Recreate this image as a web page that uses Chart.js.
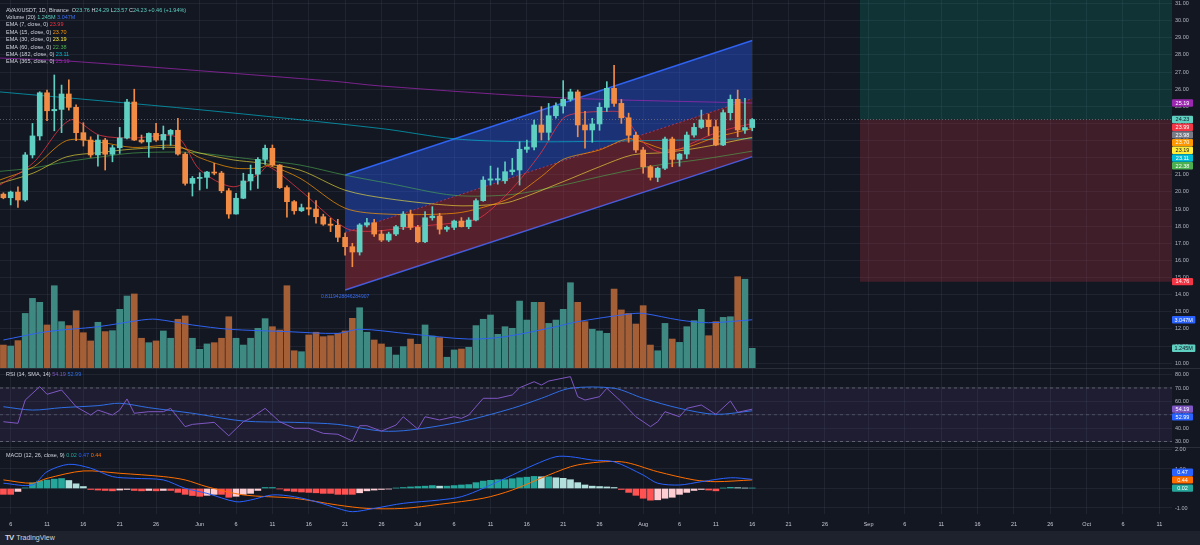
<!DOCTYPE html>
<html><head><meta charset="utf-8">
<script src="https://cdn.jsdelivr.net/npm/chart.js@4.4.1/dist/chart.umd.min.js"></script>
<style>
html,body{margin:0;padding:0;background:#131722;width:1200px;height:545px;overflow:hidden}
canvas{position:absolute;left:0;display:block}
#footer{position:absolute;left:0;top:531px;width:1200px;height:14px;background:#1e222d;color:#d1d4dc;font:7px "Liberation Sans",Arial,sans-serif;line-height:14px}
#footer b{font-size:8px;letter-spacing:-1px;margin-left:5px;margin-right:3px}
</style></head><body>
<canvas id="cMain" width="1200" height="368" style="top:0"></canvas>
<canvas id="cRsi" width="1200" height="79" style="top:368px"></canvas>
<canvas id="cMacd" width="1200" height="84" style="top:447px"></canvas>
<div id="footer"><b>TV</b>TradingView</div>
<script>
// ---------- DATA ----------
const tickDays = [2,7,12,17,22,28,33,38,43,48,53,58,63,68,73,78,83,89,94,99,104,109,114,120,125,130,135,140,145,150,155,160];
const tickLabels = ['6','11','16','21','26','Jun','6','11','16','21','26','Jul','6','11','16','21','26','Aug','6','11','16','21','26','Sep','6','11','16','21','26','Oct','6','11'];
const priceTicks = [10,11,12,13,14,15,16,17,18,19,20,21,22,23,24,25,26,27,28,29,30,31];
const rsiTicks = [30,40,50,60,70,80];
const macdTicks = [-1,0,1,2];

const opens = [19.87,19.66,19.99,19.53,22.16,23.27,25.79,24.74,24.82,25.72,
 24.94,23.46,23.03,22.16,23.03,22.2,22.58,23.15,25.25,23.03,
 22.92,23.42,23.03,23.36,23.6,22.21,20.5,20.79,20.85,21.16,
 21.1,20.07,18.71,19.63,20.64,21.03,21.9,22.55,21.57,20.25,
 19.43,18.9,19.08,19.0,18.55,18.12,18.05,17.35,16.8,16.49,
 18.07,18.2,17.54,17.19,17.54,17.97,18.71,17.93,17.09,18.49,
 18.59,17.82,17.93,18.3,17.97,18.36,19.49,20.69,20.7,20.65,
 21.18,21.28,22.49,22.62,23.91,23.48,24.45,25.02,25.41,25.84,
 23.91,23.62,23.97,24.94,26.05,25.17,24.33,23.31,22.45,21.47,
 20.85,21.38,23.09,21.9,22.21,23.32,23.77,24.2,23.81,22.74,
 24.63,25.41,23.62,23.76];
const highs = [19.95,20.05,20.3,22.3,24.0,25.85,25.95,26.83,26.24,26.54,
 25.08,24.04,23.22,23.32,23.13,22.72,23.77,25.41,26.0,23.32,
 23.45,24.0,23.85,23.65,24.3,22.3,20.9,21.12,21.2,21.67,
 21.2,20.2,19.92,21.09,21.57,22.0,22.74,22.74,21.6,20.35,
 19.5,19.29,19.95,19.49,18.7,18.46,18.4,17.6,17.0,18.15,
 18.46,18.4,17.75,17.65,18.05,18.85,18.94,18.05,18.85,19.14,
 18.75,18.0,18.35,18.5,18.5,19.6,20.89,21.51,21.4,21.76,
 21.96,22.93,23.03,24.2,24.98,25.17,25.2,26.5,26.0,25.95,
 24.7,24.3,25.2,26.44,27.4,25.4,24.6,23.5,22.6,21.55,
 21.45,23.2,23.2,22.25,23.5,24.0,24.78,24.55,24.2,24.8,
 25.66,25.95,25.47,24.29];
const lows = [19.6,19.24,19.1,19.45,21.98,23.03,24.16,23.57,23.46,24.78,
 23.0,22.68,22.02,21.51,21.28,21.76,22.25,23.1,23.0,22.85,
 22.02,22.95,22.49,22.72,22.15,20.4,19.76,20.11,20.21,21.0,
 19.95,18.46,18.7,19.6,20.11,20.2,21.6,21.5,20.2,18.52,
 18.7,18.85,18.65,18.17,18.05,17.68,17.09,16.31,15.63,16.31,
 17.95,17.4,17.1,17.1,17.45,17.8,17.8,17.03,17.03,18.35,
 17.54,17.7,17.8,17.95,17.85,18.3,19.45,20.4,20.45,20.5,
 21.0,20.4,22.3,22.45,23.03,23.03,24.3,24.6,25.3,23.22,
 22.55,22.9,23.6,24.7,25.0,24.0,22.9,22.3,21.09,20.69,
 20.6,21.3,21.47,21.5,21.95,23.2,23.7,23.3,22.7,22.7,
 24.2,23.22,23.42,23.57];
const closes = [19.66,19.99,19.53,22.16,23.27,25.79,24.74,24.82,25.72,24.94,
 23.46,23.03,22.16,23.03,22.2,22.58,23.15,25.25,23.03,22.92,
 23.42,23.03,23.36,23.6,22.21,20.5,20.79,20.85,21.16,21.1,
 20.07,18.71,19.63,20.64,21.03,21.9,22.55,21.57,20.25,19.43,
 18.9,19.08,19.0,18.55,18.12,18.05,17.35,16.8,16.49,18.07,
 18.2,17.54,17.19,17.54,17.97,18.71,17.93,17.09,18.49,18.59,
 17.82,17.93,18.3,17.97,18.36,19.49,20.69,20.76,20.77,21.18,
 21.28,22.49,22.62,23.91,23.48,24.45,25.02,25.41,25.84,23.91,
 23.62,23.97,24.94,26.05,25.17,24.33,23.31,22.45,21.47,20.85,
 21.38,23.09,21.9,22.21,23.32,23.77,24.2,23.81,22.74,24.63,
 25.41,23.62,23.76,24.23];
const volumesM = [1.45,1.39,1.73,3.45,4.40,4.15,2.72,5.20,2.93,2.68,
 3.62,2.23,1.71,2.89,2.30,2.36,3.71,4.55,4.68,1.88,
 1.60,1.71,2.34,1.88,3.08,3.29,1.88,1.18,1.52,1.60,
 1.88,3.24,1.88,1.45,1.88,2.51,3.12,2.61,2.40,5.20,
 1.09,1.03,2.09,2.26,1.98,2.04,2.19,2.34,3.14,3.81,
 2.26,1.77,1.52,1.31,0.82,1.35,1.83,1.50,2.72,2.02,
 1.92,0.68,1.14,1.20,1.31,2.68,3.08,3.35,2.13,2.61,
 2.51,4.23,3.03,4.15,4.15,2.82,3.03,3.71,5.39,4.15,
 2.93,2.45,2.34,2.19,4.99,3.67,3.45,2.78,3.94,1.45,
 1.09,2.82,1.83,1.62,2.61,2.99,3.71,2.04,2.93,3.20,
 3.24,5.77,5.61,1.245];
const volMA = [[1,1.77],[7,2.30],[14,2.61],[20,3.03],[22,3.08],[27,2.72],[32,2.45],[40,2.30],[47,2.19],[50,2.45],[57,2.15],[65,1.83],[70,1.98],[77,2.61],[80,2.93],[87,3.41],[89,3.45],[94,3.03],[98,2.86],[104,3.047]];

const ema7 = [[0.53,20.4],[5.1,21.7],[10.2,24.2],[14.3,23.3],[18.8,23.15],[24.9,23.2],[28,21.3],[32.6,20.3],[36.3,21.1],[37.4,21.5],[41.8,20.1],[48,17.9],[51.7,17.7],[57,17.95],[63.2,18.2],[66.6,18.5],[71,20.2],[74.8,22.2],[78,24.3],[80,24.6],[84,24.7],[86,24.6],[89,22.9],[91,22.35],[93,22.35],[96,22.9],[99,23.45],[102,23.8],[104,23.99]];
const ema15 = [[0.53,20.7],[5.1,21.45],[9.7,23.0],[14.3,22.9],[18.8,22.6],[24.9,22.7],[28,22.0],[32.6,21.4],[36.3,21.4],[37.4,21.55],[41.8,20.8],[48,19.05],[54,18.7],[63,18.75],[67,19.1],[71,19.7],[75,20.9],[78,21.9],[83,22.45],[86.8,23.1],[89,22.9],[92.3,22.45],[95,22.6],[99,23.2],[101.4,23.44],[104,23.70]];
const ema30 = [[0.53,20.5],[5.1,21.1],[9.7,22.05],[14.3,22.3],[18.8,22.5],[24.9,22.6],[28,22.27],[32.6,21.87],[36.3,21.69],[41.8,21.27],[48,20.1],[54,19.6],[63,19.2],[68,19.25],[71,19.45],[78,20.6],[83,21.47],[87.5,22.16],[92,22.3],[97,22.6],[104,23.19]];
const ema60 = [[0.53,21.2],[5.1,21.4],[9.7,21.76],[14.3,22.04],[18.8,22.27],[24.9,22.33],[28,22.27],[32.6,22.04],[36.3,21.86],[41.8,21.57],[48,20.98],[54,20.5],[63,19.8],[71,19.85],[78,20.4],[83,20.89],[90,21.5],[97,21.9],[104,22.38]];
const ema182 = [[0.53,25.84],[28,24.8],[53,23.7],[63,23.1],[73,22.93],[90,23.0],[104,23.11]];
const ema365 = [[0.53,27.82],[9.7,27.65],[46,26.48],[52.8,26.19],[78,25.49],[104,25.19]];
const extraLevel = 23.98;

const channelX = [48,104];
const channelUpper = [20.99,28.84];
const channelLower = [14.27,22.06];
const channelR = '0.8119428846284907';

const posX = [118.8,161.74];
const posTarget = 32;
const posEntry = 24.23;
const posStop = 14.76;

const rsi = [[1,44.8],[3,43.6],[4,61.0],[6,71.0],[7,65.3],[9,68.5],[10,62.3],[11,56.0],[13,49.8],[14,53.5],[16,49.8],[17,53.5],[18,61.8],[19,51.1],[21,52.3],[23,52.3],[24,54.8],[26,41.1],[27,42.8],[30,44.3],[32,34.3],[34,44.8],[35,47.3],[37,54.8],[39,44.8],[41,39.9],[43,39.9],[45,36.1],[47,35.4],[49,30.4],[50,41.8],[51,41.8],[53,37.8],[55,42.3],[56,48.5],[58,39.3],[59,48.5],[61,46.1],[63,48.5],[64,47.3],[65,49.8],[67,62.3],[69,62.3],[71,64.8],[72,70.2],[74,74.7],[75,72.2],[76,75.2],[79,78.5],[80,63.5],[81,61.0],[83,63.5],[84,69.8],[86,59.8],[88,48.5],[90,41.1],[91,44.8],[92,52.3],[94,48.5],[95,54.8],[97,57.3],[99,50.3],[101,60.3],[102,51.8],[104,54.19]];
const rsiMA = [[1,56.0],[5,53.5],[9,55.3],[14,56.8],[17,58.6],[21,55.3],[27,51.1],[34,45.3],[41,44.3],[47,42.8],[53,37.8],[57,38.6],[64,44.8],[71,54.8],[75,62.3],[79,69.8],[85,69.8],[89,62.3],[94,54.8],[99,50.3],[104,52.99]];

const macd = [[1,0.27],[5,0.18],[7,0.86],[10,1.24],[13,1.04],[16,0.61],[19,0.52],[23,0.44],[26,0.01],[29,-0.25],[33,-0.68],[35,-0.59],[38,-0.33],[41,-0.42],[44,-0.68],[47,-1.02],[49,-1.19],[52,-1.02],[56,-0.76],[61,-0.59],[64,-0.42],[67,0.01],[71,0.69],[74,1.21],[77,1.63],[79,1.63],[82,1.46],[85,1.37],[89,0.69],[91,0.27],[94,0.18],[97,0.35],[101,0.55],[104,0.47]];
const signal = [[1,0.44],[5,0.27],[7,0.52],[12,0.90],[17,0.78],[23,0.61],[26,0.44],[29,0.09],[34,-0.33],[41,-0.50],[47,-0.85],[51,-1.02],[56,-1.02],[61,-0.81],[67,-0.50],[71,-0.08],[76,0.69],[80,1.21],[86,1.37],[91,0.86],[96,0.44],[99,0.35],[104,0.44]];
const hist = [-0.3,-0.3,-0.15,0.03,0.29,0.38,0.43,0.48,0.51,0.41,
 0.24,0.10,-0.05,-0.08,-0.10,-0.12,-0.08,-0.05,-0.10,-0.12,
 -0.10,-0.12,-0.10,-0.10,-0.20,-0.30,-0.36,-0.40,-0.35,-0.30,
 -0.30,-0.45,-0.40,-0.30,-0.25,-0.10,0.05,0.05,-0.02,-0.12,
 -0.15,-0.18,-0.20,-0.22,-0.25,-0.25,-0.30,-0.30,-0.30,-0.22,
 -0.12,-0.08,-0.05,-0.03,0.02,0.05,0.08,0.10,0.12,0.15,
 0.12,0.12,0.15,0.18,0.20,0.30,0.38,0.42,0.45,0.45,
 0.50,0.55,0.58,0.62,0.60,0.60,0.55,0.52,0.45,0.30,
 0.18,0.12,0.10,0.08,0.05,-0.05,-0.20,-0.35,-0.50,-0.60,
 -0.58,-0.50,-0.45,-0.30,-0.20,-0.10,-0.05,-0.08,-0.12,0.02,
 0.06,0.04,0.02,0.02];

// ---------- STYLE / LAYOUT ----------
const FONT = '"Liberation Sans", Arial, sans-serif';
const BG = '#131722';
const GRID = 'rgba(60,64,78,0.32)';
const TXT = '#b2b5be';
const XTXT = '#c8cbd3';
const UP = '#5fcfc1', DN = '#f28c45';
const VUP = '#3e8a82', VDN = '#a55f37';
const C7='#f23645', C15='#ff9800', C30='#ffeb3b', C60='#4caf50', C182='#00bcd4', C365='#9c27b0';
const X_MIN = 0.532, X_MAX = 161.74;
const PRICE_MIN = 9.716, PRICE_MAX = 31.209;
const VOL_MAX = 23.26;
const RSI_MIN = 25.89, RSI_MAX = 84.95;
const MACD_MIN = -1.308, MACD_MAX = 2.128;

const idx = opens.map((_, i) => i + 1);
const up = i => closes[i] >= opens[i];
const pts = arr => arr.map(p => ({x: p[0], y: p[1]}));
const hline = (v) => [{x: X_MIN, y: v}, {x: X_MAX, y: v}];

function xAxis(show) {
  return {
    type: 'linear', min: X_MIN, max: X_MAX, offset: false, bounds: 'data',
    afterBuildTicks: s => { s.ticks = tickDays.map(v => ({value: v})); },
    afterFit: s => { s.height = show ? 17 : 0; s.paddingLeft = 0; s.paddingRight = 0; },
    grid: {color: GRID, drawTicks: false, offset: false},
    border: {display: false},
    ticks: {display: show, autoSkip: false, maxRotation: 0, minRotation: 0, color: XTXT,
      font: {size: 5.5, family: FONT}, padding: 7, callback: (v, i) => tickLabels[i]}
  };
}
function yAxis(min, max, tks) {
  return {
    type: 'linear', position: 'right', min, max,
    afterBuildTicks: s => { s.ticks = tks.map(v => ({value: v})); },
    afterFit: s => { s.width = 28; s.paddingTop = 0; s.paddingBottom = 0; },
    grid: {color: GRID, drawTicks: false},
    border: {display: false},
    ticks: {color: TXT, font: {size: 5.5, family: FONT}, padding: 3, callback: v => Number(v).toFixed(2)}
  };
}
function line(data, color, yAxisID, order, extra) {
  return Object.assign({type: 'line', data, borderColor: color, borderWidth: 1, pointRadius: 0,
    fill: false, tension: 0.3, yAxisID, order}, extra || {});
}
const bgPlugin = {id: 'bg', beforeDraw(ch) {
  const c = ch.ctx; c.save(); c.fillStyle = BG; c.fillRect(0, 0, ch.width, ch.height);
  if (ch.options.topSep) { c.fillStyle = '#2a2e39'; c.fillRect(0, 0, ch.width, 1); }
  c.restore(); }};
function legendPlugin(rows, y0, dy) {
  return {id: 'lg', afterDraw(ch) {
    const c = ch.ctx; c.save(); c.font = '5.5px ' + FONT; c.textBaseline = 'middle';
    rows.forEach((r, k) => { let x = 6; r.forEach(([t, col]) => { c.fillStyle = col; c.fillText(t, x, y0 + k * dy); x += c.measureText(t).width; }); });
    c.restore(); }};
}
function badgePlugin(groups) {
  return {id: 'badges', afterDraw(ch) {
    const c = ch.ctx; c.save(); c.font = '5.5px ' + FONT; c.textBaseline = 'middle'; c.textAlign = 'center';
    const H = 7.7;
    groups.forEach(g => {
      const sc = ch.scales[g.axis];
      const items = g.items.map(it => Object.assign({}, it, {ny: sc.getPixelForValue(it.value)})).sort((a, b) => b.value - a.value);
      let a = items.findIndex(it => it.anchor); if (a < 0) a = 0;
      items.forEach(it => it.y = it.ny);
      for (let i = a - 1; i >= 0; i--) items[i].y = Math.min(items[i].ny, items[i + 1].y - H);
      for (let i = a + 1; i < items.length; i++) items[i].y = Math.max(items[i].ny, items[i - 1].y + H);
      items.forEach(it => {
        const w = Math.max(21, c.measureText(it.text).width + 5);
        const x0 = ch.chartArea.right;
        c.fillStyle = it.bg; c.beginPath(); c.roundRect(x0, it.y - 3.7, w, 7.4, 1); c.fill();
        c.fillStyle = it.fg || '#ffffff'; c.fillText(it.text, x0 + w / 2, it.y + 0.3);
      });
    });
    c.restore(); }};
}
const channelLabel = {id: 'chl', afterDatasetsDraw(ch) {
  const c = ch.ctx; const x = ch.scales.x.getPixelForValue(channelX[0]); const y = ch.scales.y.getPixelForValue(channelLower[0]);
  c.save(); c.font = '5px ' + FONT; c.fillStyle = '#3a6df0'; c.textAlign = 'center'; c.textBaseline = 'middle';
  c.fillText(channelR, x, y + 7); c.restore(); }};

const base = {responsive: false, animation: false, events: [], devicePixelRatio: 1,
  layout: {padding: 0}, plugins: {legend: {display: false}, tooltip: {enabled: false}}};

// ---------- MAIN PANE ----------
const n = idx.length - 1;
const fmtM = v => v.toFixed(3) + 'M';
new Chart(document.getElementById('cMain'), {
  type: 'bar',
  data: {datasets: [
    {type: 'bar', data: idx.map((d, i) => ({x: d, y: [opens[i], closes[i]]})), backgroundColor: idx.map((d, i) => up(i) ? UP : DN),
      barThickness: 5, grouped: false, minBarLength: 1, borderWidth: 0, yAxisID: 'y', order: 0},
    {type: 'bar', data: idx.map((d, i) => ({x: d, y: [lows[i], highs[i]]})), backgroundColor: idx.map((d, i) => up(i) ? UP : DN),
      barThickness: 1, grouped: false, borderWidth: 0, yAxisID: 'y', order: 1},
    line(pts(ema7), 'rgba(242,54,69,0.75)', 'y', 2),
    line(pts(ema15), 'rgba(255,152,0,0.7)', 'y', 2),
    line(pts(ema30), 'rgba(255,235,59,0.6)', 'y', 2),
    line(pts(ema60), 'rgba(76,175,80,0.6)', 'y', 2),
    line(pts(ema182), 'rgba(0,188,212,0.65)', 'y', 2),
    line(pts(ema365), 'rgba(156,39,176,0.75)', 'y', 2),
    line([{x: channelX[0], y: channelUpper[0]}, {x: channelX[1], y: channelUpper[1]}], '#2f62f0', 'y', 4,
      {borderWidth: 1.5, tension: 0, fill: '+1', backgroundColor: 'rgba(41,98,255,0.38)'}),
    line([{x: channelX[0], y: (channelUpper[0] + channelLower[0]) / 2}, {x: channelX[1], y: (channelUpper[1] + channelLower[1]) / 2}], 'rgba(242,54,69,0.7)', 'y', 4,
      {borderWidth: 1, tension: 0, borderDash: [2, 2], fill: '+1', backgroundColor: 'rgba(242,54,69,0.3)'}),
    line([{x: channelX[0], y: channelLower[0]}, {x: channelX[1], y: channelLower[1]}], '#2f62f0', 'y', 4,
      {borderWidth: 1.5, tension: 0}),
    line(hline(posEntry), 'rgba(120,123,134,0.7)', 'y', 3, {tension: 0, borderDash: [1, 2]}),
    line([{x: posX[0], y: posTarget}, {x: posX[1], y: posTarget}], 'rgba(0,0,0,0)', 'y', 9,
      {borderWidth: 0, tension: 0, fill: '+1', backgroundColor: 'rgba(8,153,129,0.22)'}),
    line([{x: posX[0], y: posEntry}, {x: posX[1], y: posEntry}], 'rgba(0,0,0,0)', 'y', 9,
      {borderWidth: 0, tension: 0, fill: '+1', backgroundColor: 'rgba(242,54,69,0.2)'}),
    line([{x: posX[0], y: posStop}, {x: posX[1], y: posStop}], 'rgba(0,0,0,0)', 'y', 9, {borderWidth: 0, tension: 0}),
    {type: 'bar', data: idx.map((d, i) => ({x: d, y: volumesM[i]})), backgroundColor: idx.map((d, i) => up(i) ? VUP : VDN),
      barThickness: 6, grouped: false, borderWidth: 0, yAxisID: 'yv', order: 8},
    line(pts(volMA), '#2f62f0', 'yv', 7, {tension: 0.3})
  ]},
  options: Object.assign({}, base, {
    scales: {x: xAxis(false), y: yAxis(PRICE_MIN, PRICE_MAX, priceTicks), yv: {type: 'linear', display: false, min: 0, max: VOL_MAX}}
  }),
  plugins: [bgPlugin, channelLabel,
    legendPlugin([
      [['AVAX/USDT, 1D, Binance  ', '#d1d4dc'], ['O', '#d1d4dc'], [opens[n].toFixed(2) + ' ', UP], ['H', '#d1d4dc'], [highs[n].toFixed(2) + ' ', UP],
       ['L', '#d1d4dc'], [lows[n].toFixed(2) + ' ', UP], ['C', '#d1d4dc'], [closes[n].toFixed(2) + ' ', UP], ['+0.46 (+1.94%)', UP]],
      [['Volume (20) ', '#d1d4dc'], [fmtM(volumesM[n]) + ' ', UP], [fmtM(volMA[volMA.length - 1][1]), '#3a6df0']],
      [['EMA (7, close, 0) ', '#d1d4dc'], [ema7[ema7.length - 1][1].toFixed(2), C7]],
      [['EMA (15, close, 0) ', '#d1d4dc'], [ema15[ema15.length - 1][1].toFixed(2), C15]],
      [['EMA (30, close, 0) ', '#d1d4dc'], [ema30[ema30.length - 1][1].toFixed(2), C30]],
      [['EMA (60, close, 0) ', '#d1d4dc'], [ema60[ema60.length - 1][1].toFixed(2), C60]],
      [['EMA (182, close, 0) ', '#d1d4dc'], [ema182[ema182.length - 1][1].toFixed(2), C182]],
      [['EMA (365, close, 0) ', '#d1d4dc'], [ema365[ema365.length - 1][1].toFixed(2), C365]]
    ], 10, 7.4),
    badgePlugin([
      {axis: 'y', items: [
        {value: ema365[ema365.length - 1][1], text: ema365[ema365.length - 1][1].toFixed(2), bg: C365},
        {value: closes[n], text: closes[n].toFixed(2), bg: UP, fg: '#131722', anchor: true},
        {value: ema7[ema7.length - 1][1], text: ema7[ema7.length - 1][1].toFixed(2), bg: C7},
        {value: extraLevel, text: extraLevel.toFixed(2), bg: '#787b86'},
        {value: ema15[ema15.length - 1][1], text: ema15[ema15.length - 1][1].toFixed(2), bg: C15},
        {value: ema30[ema30.length - 1][1], text: ema30[ema30.length - 1][1].toFixed(2), bg: C30, fg: '#131722'},
        {value: ema182[ema182.length - 1][1], text: ema182[ema182.length - 1][1].toFixed(2), bg: C182},
        {value: ema60[ema60.length - 1][1], text: ema60[ema60.length - 1][1].toFixed(2), bg: C60},
        {value: posStop, text: posStop.toFixed(2), bg: '#f23645'}
      ]},
      {axis: 'yv', items: [
        {value: volMA[volMA.length - 1][1], text: fmtM(volMA[volMA.length - 1][1]), bg: '#2962ff'},
        {value: volumesM[n], text: fmtM(volumesM[n]), bg: UP, fg: '#131722', anchor: true}
      ]}
    ])]
});

// ---------- RSI PANE ----------
new Chart(document.getElementById('cRsi'), {
  type: 'line',
  data: {datasets: [
    line(hline(70), 'rgba(120,123,134,0.7)', 'y', 5, {tension: 0, borderDash: [3, 3], fill: 1, backgroundColor: 'rgba(126,87,194,0.1)'}),
    line(hline(30), 'rgba(120,123,134,0.7)', 'y', 5, {tension: 0, borderDash: [3, 3]}),
    line(hline(50), 'rgba(120,123,134,0.5)', 'y', 5, {tension: 0, borderDash: [3, 3]}),
    line(pts(rsiMA), '#2f6fe4', 'y', 1, {tension: 0.3}),
    line(pts(rsi), '#7e57c2', 'y', 0, {tension: 0})
  ]},
  options: Object.assign({}, base, {topSep: true, scales: {x: xAxis(false), y: yAxis(RSI_MIN, RSI_MAX, rsiTicks)}}),
  plugins: [bgPlugin,
    legendPlugin([[['RSI (14, SMA, 14) ', '#d1d4dc'], [rsi[rsi.length - 1][1].toFixed(2) + ' ', '#7e57c2'], [rsiMA[rsiMA.length - 1][1].toFixed(2), '#2f6fe4']]], 6, 7),
    badgePlugin([{axis: 'y', items: [
      {value: rsi[rsi.length - 1][1], text: rsi[rsi.length - 1][1].toFixed(2), bg: '#7e57c2', anchor: true},
      {value: rsiMA[rsiMA.length - 1][1], text: rsiMA[rsiMA.length - 1][1].toFixed(2), bg: '#2962ff'}
    ]}])]
});

// ---------- MACD PANE ----------
const histColors = hist.map((h, i) => {
  const p = i > 0 ? hist[i - 1] : h;
  if (h >= 0) return h >= p ? '#26a69a' : '#b2dfdb';
  return h <= p ? '#ff5252' : '#ffcdd2';
});
new Chart(document.getElementById('cMacd'), {
  type: 'bar',
  data: {datasets: [
    {type: 'bar', data: idx.map((d, i) => ({x: d, y: hist[i]})), backgroundColor: histColors, barThickness: 6, grouped: false, borderWidth: 0, yAxisID: 'y', order: 3},
    line(pts(signal), '#ff6d00', 'y', 1, {tension: 0.3}),
    line(pts(macd), '#2962ff', 'y', 0, {tension: 0.3})
  ]},
  options: Object.assign({}, base, {topSep: true, scales: {x: xAxis(true), y: yAxis(MACD_MIN, MACD_MAX, macdTicks)}}),
  plugins: [bgPlugin,
    legendPlugin([[['MACD (12, 26, close, 9) ', '#d1d4dc'], [hist[n].toFixed(2) + ' ', '#26a69a'], [macd[macd.length - 1][1].toFixed(2) + ' ', '#2962ff'], [signal[signal.length - 1][1].toFixed(2), '#ff6d00']]], 8, 7),
    badgePlugin([{axis: 'y', items: [
      {value: macd[macd.length - 1][1], text: macd[macd.length - 1][1].toFixed(2), bg: '#2962ff'},
      {value: signal[signal.length - 1][1], text: signal[signal.length - 1][1].toFixed(2), bg: '#ff6d00'},
      {value: hist[n], text: hist[n].toFixed(2), bg: '#26a69a', anchor: true}
    ]}])]
});
</script>
</body></html>
